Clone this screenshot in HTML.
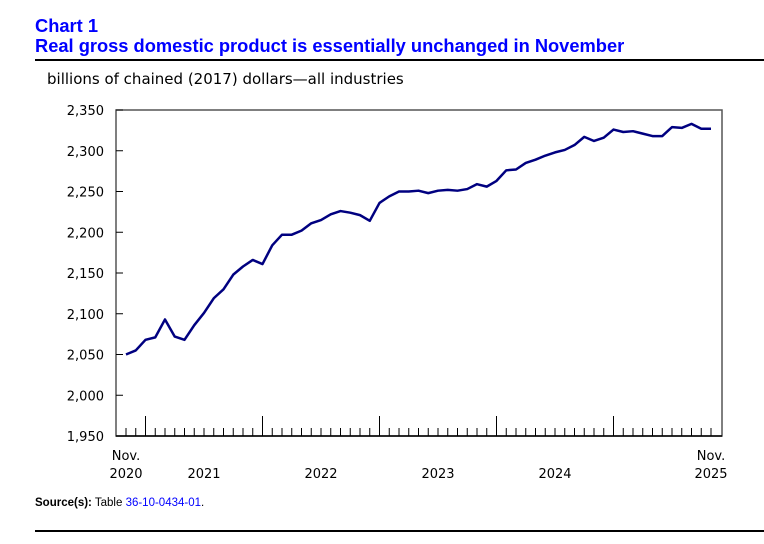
<!DOCTYPE html>
<html><head><meta charset="utf-8"><style>
body{margin:0;width:764px;height:544px;background:#fff;font-family:"Liberation Sans",Arial,sans-serif;overflow:hidden;position:relative}
.t{position:absolute;left:35px;color:#0000ff;font-weight:bold;font-size:18.3px}
</style></head><body>
<div class="t" style="top:15px">Chart 1</div>
<div class="t" style="top:35px">Real gross domestic product is essentially unchanged in November</div>
<div style="position:absolute;left:35px;top:59px;width:729px;height:2px;background:#000"></div>
<div style="position:absolute;left:35px;top:497px;font-size:11.5px;color:#000"><b>Source(s):</b> Table <span style="color:#0000ff">36-10-0434-01</span>.</div>
<div style="position:absolute;left:35px;top:530px;width:729px;height:2px;background:#000"></div>
<svg id="c" width="764" height="544" style="position:absolute;left:0;top:0" font-family="DejaVu Sans, Verdana, sans-serif" font-size="13"></svg>
<script>
const values=[2050,2055,2068,2071,2093,2072,2068,2086,2101,2119,2130,2148,2158,2166,2161,2184,2197,2197,2202,2211,2215,2222,2226,2224,2221,2214,2236,2244,2250,2250,2251,2248,2251,2252,2251,2253,2259,2256,2263,2276,2277,2285,2289,2294,2298,2301,2307,2317,2312,2316,2326,2323,2324,2321,2318,2318,2329,2328,2333,2327,2327];
const yTicks=[1950,2000,2050,2100,2150,2200,2250,2300,2350];
const yLabels=["1,950","2,000","2,050","2,100","2,150","2,200","2,250","2,300","2,350"];
const yearLabels=["2021","2022","2023","2024"];
const yearStart=[2,14,26,38];
const NS="http://www.w3.org/2000/svg";
const svg=document.getElementById('c');
const L=116,R=722,T=110,B=436;
const x=i=>126+i*(711-126)/(values.length-1);
const y=v=>B-(v-1950)*(B-T)/400;
function mk(t,a,txt){const e=document.createElementNS(NS,t);for(const k in a)e.setAttribute(k,a[k]);if(txt!=null)e.textContent=txt;svg.appendChild(e);return e;}
let e=mk('text',{x:47,y:84,'font-size':15,fill:'#000'},'billions of chained (2017) dollars\u2014all industries');

e=mk('rect',{x:L,y:T,width:R-L,height:B-T,fill:'none',stroke:'#555','stroke-width':1.5});

yTicks.forEach((v,i)=>{
 e=mk('line',{x1:L,x2:L+7,y1:y(v),y2:y(v),stroke:'#000'});
 
 e=mk('text',{x:L-12,y:y(v)+5,'text-anchor':'end',fill:'#000'},yLabels[i]);
 
});
for(let i=0;i<values.length;i++){
 const major=(i%12)==2;
 e=mk('line',{x1:x(i),x2:x(i),y1:B,y2:B-(major?20:8),stroke:'#000'});
 
}
e=mk('line',{x1:L,x2:R,y1:B,y2:B,stroke:'#000','stroke-width':1.5});

yearLabels.forEach((s,i)=>{
 e=mk('text',{x:x(yearStart[i]+6),y:478,'text-anchor':'middle',fill:'#000'},s);
 
});
[[0,'Nov.','2020'],[values.length-1,'Nov.','2025']].forEach(a=>{
 e=mk('text',{x:x(a[0]),y:460,'text-anchor':'middle',fill:'#000'},a[1]);
 
 e=mk('text',{x:x(a[0]),y:478,'text-anchor':'middle',fill:'#000'},a[2]);
 
});
e=mk('polyline',{points:values.map((v,i)=>x(i)+','+y(v)).join(' '),fill:'none',stroke:'#000080','stroke-width':2.5,'stroke-linejoin':'round'});

</script>
</body></html>
